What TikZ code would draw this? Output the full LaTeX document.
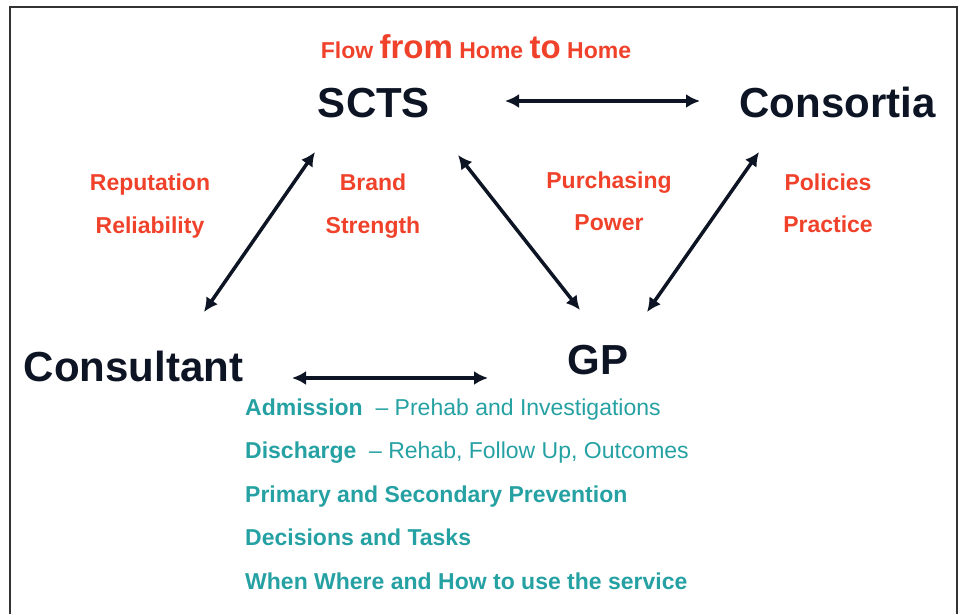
\documentclass[tikz,border=0pt]{standalone}
\usepackage{fontspec}
\setmainfont{Liberation Sans}
\usetikzlibrary{arrows.meta,calc,positioning}
\definecolor{navy}{rgb}{0.05,0.08,0.14}
\definecolor{flowred}{rgb}{0.94,0.26,0.17}
\definecolor{taskteal}{rgb}{0.15,0.63,0.64}

\begin{document}
\begin{tikzpicture}[x=1pt, y=-1pt,
			entityStyle/.style={font=\bfseries\fontsize{42}{48}\selectfont, text=navy, inner sep=0pt, anchor=base},
			labelStyle/.style={font=\bfseries\fontsize{23}{27}\selectfont, text=flowred, inner sep=0pt, anchor=base},
			taskStyle/.style={font=\fontsize{23}{27}\selectfont, text=taskteal, inner sep=0pt, anchor=base west},
			arrowStyle/.style={<->, >={Latex[length=14pt, width=14pt]}, line width=3.5pt, navy},
			frameStyle/.style={draw=black!80, line width=1.5pt}]
			
			\useasboundingbox (0,0) rectangle (962,614);
			\draw[frameStyle] (10,614) -- (10,7) -- (957,7) -- (957,614);
			
			\node[entityStyle] (scts) at (374,117) {SCTS};
			\node[entityStyle] (cons) at (837.5,117) {Consortia};
			\node[entityStyle] (consu) at (133.5,381) {Consultant};
			\node[entityStyle] (gp) at (598,374) {GP};
			
			\node[labelStyle] (flow) at (476,58) {Flow {\fontsize{33}{36}\selectfont from}\ Home\ {\fontsize{33}{36}\selectfont to}\ Home};
			
			\begin{scope}[every node/.style={labelStyle}]
				\node (rep) at (150,190) {Reputation};
				\node (rel) at (150,233) {Reliability};
				\node (brand) at (373,190) {Brand};
				\node (str) at (373,233) {Strength};
				\node (purch) at (609,188) {Purchasing};
				\node (pow) at (609,230) {Power};
				\node (pol) at (828,190) {Policies};
				\node (prac) at (828,232) {Practice};
			\end{scope}
			
			\draw[arrowStyle] ($(scts.base)+(131,-16)$) -- ($(cons.base)+(-137.5,-16)$);
			\draw[arrowStyle] ($(scts.base)+(-59,35)$) -- ($(consu.base)+(70.5,-69)$);
			\draw[arrowStyle] ($(scts.base)+(84,38)$) -- ($(gp.base)+(-18,-64)$);
			\draw[arrowStyle] ($(cons.base)+(-78.5,35)$) -- ($(gp.base)+(49,-62)$);
			\draw[arrowStyle] ($(consu.base)+(158.5,-3)$) -- ($(gp.base)+(-110,4)$);
			
			%%%%%%%%%%%
			\foreach \txt [count=\i] in {{\textbf{Admission}\ \ – Prehab and Investigations},
				{\textbf{Discharge}\ \ – Rehab, Follow Up, Outcomes},
				{\textbf{Primary and Secondary Prevention}},
				{\textbf{Decisions and Tasks}},
				{\textbf{When Where and How to use the service}}}
			\node[taskStyle] (task\i) at (245,{415+43.5*(\i-1)}) {\txt};
		\end{tikzpicture}
\end{document}
